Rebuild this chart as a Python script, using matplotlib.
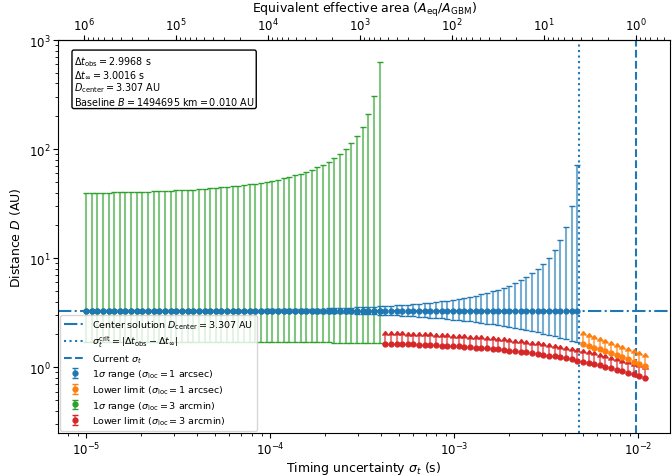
import numpy as np
import matplotlib
matplotlib.use("Agg")
import matplotlib.pyplot as plt
from matplotlib.ticker import FixedLocator, NullFormatter

D_center = 3.307
sigma_crit = 0.0048
sigma_current = 9.75e-3

sigma_t = [1e-05, 1.073e-05, 1.152e-05, 1.236e-05, 1.327e-05, 1.424e-05, 1.528e-05, 1.64e-05, 1.76e-05, 1.889e-05,
           2.027e-05, 2.175e-05, 2.334e-05, 2.505e-05, 2.689e-05, 2.885e-05, 3.097e-05, 3.323e-05, 3.567e-05, 3.828e-05,
           4.108e-05, 4.409e-05, 4.731e-05, 5.078e-05, 5.449e-05, 5.848e-05, 6.276e-05, 6.735e-05, 7.228e-05, 7.757e-05,
           8.325e-05, 8.935e-05, 9.589e-05, 1.029e-04, 1.104e-04, 1.185e-04, 1.272e-04, 1.365e-04, 1.465e-04, 1.572e-04,
           1.687e-04, 1.811e-04, 1.943e-04, 2.086e-04, 2.238e-04, 2.402e-04, 2.578e-04, 2.767e-04, 2.970e-04, 3.187e-04,
           3.420e-04, 3.671e-04, 3.939e-04, 4.228e-04, 4.537e-04, 4.869e-04, 5.226e-04, 5.608e-04, 6.019e-04, 6.459e-04,
           6.932e-04, 7.440e-04, 7.984e-04, 8.569e-04, 9.196e-04, 9.869e-04, 1.059e-03, 1.137e-03, 1.220e-03, 1.309e-03,
           1.405e-03, 1.508e-03, 1.618e-03, 1.737e-03, 1.864e-03, 2.000e-03, 2.147e-03, 2.304e-03, 2.472e-03, 2.653e-03,
           2.848e-03, 3.056e-03, 3.280e-03, 3.520e-03, 3.778e-03, 4.054e-03, 4.351e-03, 4.669e-03, 5.011e-03, 5.378e-03,
           5.772e-03, 6.194e-03, 6.648e-03, 7.134e-03, 7.656e-03, 8.217e-03, 8.818e-03, 9.464e-03, 1.016e-02, 1.090e-02]

# 1-sigma range, sigma_loc = 1 arcsec (first points)
blue_lo = [3.284, 3.283, 3.283, 3.282, 3.281, 3.281, 3.28, 3.279, 3.279, 3.278, 3.277, 3.276, 3.275, 3.274, 3.272,
           3.271, 3.27, 3.268, 3.267, 3.265, 3.263, 3.261, 3.259, 3.257, 3.254, 3.252, 3.249, 3.246, 3.243, 3.239,
           3.236, 3.232, 3.228, 3.223, 3.218, 3.213, 3.208, 3.202, 3.196, 3.189, 3.182, 3.174, 3.166, 3.157, 3.148,
           3.138, 3.127, 3.116, 3.104, 3.091, 3.077, 3.063, 3.048, 3.031, 3.014, 2.995, 2.976, 2.955, 2.933, 2.910,
           2.886, 2.860, 2.833, 2.804, 2.774, 2.743, 2.710, 2.675, 2.639, 2.602, 2.562, 2.521, 2.479, 2.435, 2.390,
           2.343, 2.294, 2.245, 2.194, 2.141, 2.088, 2.034, 1.978, 1.922, 1.865, 1.808, 1.750, 1.692]
blue_hi = [3.331, 3.331, 3.332, 3.332, 3.333, 3.334, 3.334, 3.335, 3.336, 3.337, 3.338, 3.339, 3.34, 3.341, 3.342,
           3.344, 3.345, 3.347, 3.348, 3.35, 3.352, 3.354, 3.356, 3.359, 3.361, 3.364, 3.367, 3.37, 3.374, 3.377,
           3.381, 3.386, 3.39, 3.395, 3.401, 3.406, 3.413, 3.419, 3.426, 3.434, 3.443, 3.452, 3.461, 3.472, 3.483,
           3.495, 3.509, 3.523, 3.539, 3.555, 3.574, 3.593, 3.615, 3.638, 3.663, 3.691, 3.721, 3.754, 3.79, 3.829,
           3.872, 3.92, 3.972, 4.029, 4.093, 4.163, 4.242, 4.329, 4.427, 4.537, 4.662, 4.804, 4.965, 5.152, 5.368,
           5.621, 5.92, 6.279, 6.716, 7.258, 7.947, 8.848, 10.07, 11.83, 14.56, 19.35, 29.9, 72.1]
# 1-sigma range, sigma_loc = 3 arcmin (first points)
green_lo = [1.725, 1.725, 1.725, 1.725, 1.725, 1.725, 1.724, 1.724, 1.724, 1.724, 1.724, 1.723, 1.723, 1.723, 1.722,
            1.722, 1.722, 1.721, 1.721, 1.72, 1.72, 1.719, 1.719, 1.718, 1.717, 1.717, 1.716, 1.715, 1.714, 1.713, 1.712,
            1.711, 1.71, 1.709, 1.707, 1.706, 1.704, 1.703, 1.701, 1.699, 1.697, 1.695, 1.692, 1.69, 1.687, 1.684, 1.681,
            1.678, 1.674, 1.671, 1.667, 1.662, 1.658]
green_hi = [39.68, 39.75, 39.83, 39.91, 40, 40.1, 40.2, 40.31, 40.43, 40.56, 40.7, 40.86, 41.02, 41.2, 41.39, 41.6,
            41.82, 42.07, 42.33, 42.62, 42.94, 43.28, 43.66, 44.07, 44.51, 45.01, 45.55, 46.14, 46.79, 47.52, 48.32,
            49.21, 50.2, 51.31, 52.56, 53.97, 55.57, 57.4, 59.49, 61.92, 64.76, 68.11, 72.11, 76.96, 82.95, 90.51,
            100.3, 113.5, 132.2, 160.6, 208.7, 307.3, 624]
# lower limits (last points)
orange_lim = [1.634, 1.576, 1.518, 1.461, 1.404, 1.347, 1.291, 1.236, 1.182, 1.129, 1.077, 1.027]
red_lim = [1.653, 1.648, 1.642, 1.636, 1.63, 1.623, 1.616, 1.609, 1.601, 1.592, 1.583, 1.574, 1.563, 1.553, 1.541,
           1.529, 1.516, 1.503, 1.489, 1.474, 1.458, 1.442, 1.425, 1.407, 1.388, 1.368, 1.348, 1.326, 1.304, 1.281,
           1.257, 1.233, 1.208, 1.182, 1.155, 1.127, 1.1, 1.071, 1.042, 1.013, 0.9829, 0.9528, 0.9225, 0.8921, 0.8616,
           0.8311, 0.8007]

sig_arr = np.array(sigma_t)
bx = sig_arr[:len(blue_lo)]
gx = sig_arr[:len(green_lo)]
ox = sig_arr[len(sigma_t) - len(orange_lim):]
rx = sig_arr[len(sigma_t) - len(red_lim):]

fig = plt.figure(figsize=(6.72, 4.77), dpi=100)
ax = fig.add_axes([0.0863, 0.0901, 0.9107, 0.8239])
ax.set_xscale('log'); ax.set_yscale('log')

ax.axhline(D_center, color='C0', ls='-.', lw=1.5, label=r'Center solution $D_{\rm center}=3.307$ AU')
ax.axvline(sigma_crit, color='C0', ls=':', lw=1.5, label=r'$\sigma_t^{\rm crit}=|\Delta t_{\rm obs}-\Delta t_\infty|$')
ax.axvline(sigma_current, color='C0', ls='--', lw=1.5, label=r'Current $\sigma_t$')

def eb(x, y, lo, hi, c, lab, z, lolims=False):
    y = np.asarray(y, float)
    if lolims:
        e = ax.errorbar(x, y, yerr=[np.zeros_like(y), 0.2*y], lolims=True, fmt='o', ms=3.5, color=c,
                        capsize=2, elinewidth=1.5, label=lab, zorder=z)
    else:
        e = ax.errorbar(x, y, yerr=[y-np.asarray(lo), np.asarray(hi)-y], fmt='o', ms=3.5, color=c,
                        capsize=2, elinewidth=1.5, label=lab, zorder=z)
    for b in e[2]:
        b.set_alpha(0.6)
    return e

eb(bx, [D_center]*len(bx), blue_lo, blue_hi, 'C0', r'1$\sigma$ range ($\sigma_{\rm loc}=1$ arcsec)', 4)
eb(ox, orange_lim, None, None, 'C1', r'Lower limit ($\sigma_{\rm loc}=1$ arcsec)', 3, True)
eb(gx, [D_center]*len(gx), green_lo, green_hi, 'C2', r'1$\sigma$ range ($\sigma_{\rm loc}=3$ arcmin)', 2)
eb(rx, red_lim, None, None, 'C3', r'Lower limit ($\sigma_{\rm loc}=3$ arcmin)', 3, True)

ax.set_xlim(7.05e-6, 1.49e-2)
ax.set_ylim(0.25, 1e3)
ax.set_xlabel(r'Timing uncertainty $\sigma_t$ (s)', fontsize=9, labelpad=1)
ax.set_ylabel(r'Distance $D$ (AU)', fontsize=9)
ax.tick_params(labelsize=8.5, pad=2)
ax.legend(loc='lower left', fontsize=6.8, labelspacing=0.3, borderaxespad=0.25, handlelength=2.2)

txt = (r'$\Delta t_{\rm obs}=2.9968$ s' + '\n' + r'$\Delta t_\infty=3.0016$ s' + '\n' +
       r'$D_{\rm center}=3.307$ AU' + '\n' + r'Baseline $B=1494695$ km$=0.010$ AU')
ax.text(0.026, 0.965, txt, transform=ax.transAxes, fontsize=6.9, va='top', ha='left', linespacing=1.05,
        bbox=dict(boxstyle='round,pad=0.2', fc='white', ec='black'))

def fwd(s):
    s = np.clip(s, 1e-12, None)
    return (sigma_current / s) ** 2
def inv(a):
    a = np.clip(a, 1e-12, None)
    return sigma_current / np.sqrt(a)
sec = ax.secondary_xaxis('top', functions=(fwd, inv))
sec.xaxis.set_major_locator(FixedLocator([1e6, 1e5, 1e4, 1e3, 1e2, 1e1, 1e0]))
minors = [m * 10.0**e for e in range(-1, 7) for m in range(2, 10)]
minors = [v for v in minors if fwd(1.49e-2) < v < fwd(7.05e-6)]
sec.xaxis.set_minor_locator(FixedLocator(minors))
sec.xaxis.set_minor_formatter(NullFormatter())
sec.set_xlabel(r'Equivalent effective area ($A_{\rm eq}/A_{\rm GBM}$)', fontsize=9, labelpad=3.5)
sec.tick_params(labelsize=8.5, pad=1)

fig.savefig('out.png', dpi=100)
